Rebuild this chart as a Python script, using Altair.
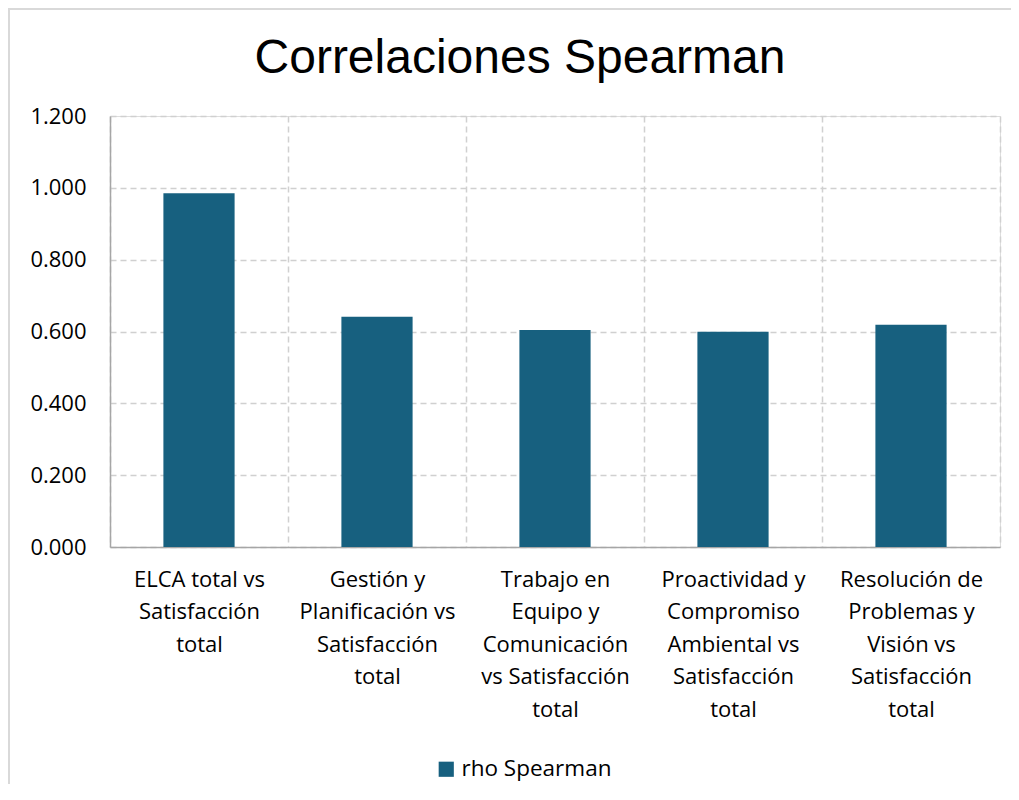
import altair as alt
import pandas as pd

categories = [
    "ELCA total vs Satisfacción total",
    "Gestión y Planificación vs Satisfacción total",
    "Trabajo en Equipo y Comunicación vs Satisfacción total",
    "Proactividad y Compromiso Ambiental vs Satisfacción total",
    "Resolución de Problemas y Visión vs Satisfacción total",
]
label_lines = [
    ["ELCA total vs", "Satisfacción", "total"],
    ["Gestión y", "Planificación vs", "Satisfacción", "total"],
    ["Trabajo en", "Equipo y", "Comunicación", "vs Satisfacción", "total"],
    ["Proactividad y", "Compromiso", "Ambiental vs", "Satisfacción", "total"],
    ["Resolución de", "Problemas y", "Visión vs", "Satisfacción", "total"],
]
rho = [0.985, 0.641, 0.604, 0.599, 0.619]
series_name = "rho Spearman"
y_ticks = [0.0, 0.2, 0.4, 0.6, 0.8, 1.0, 1.2]

df = pd.DataFrame({"categoria": categories, "valor": rho, "serie": series_name})

def js_str(s):
    return "'" + s.replace("'", "\\'") + "'"

label_expr = "{" + ", ".join(
    js_str(c) + ": [" + ", ".join(js_str(l) for l in lines) + "]"
    for c, lines in zip(categories, label_lines)
) + "}[datum.label]"

label_font = "Open Sans"
bar_color = "#17607f"
grid_color = "#d0d0d0"

bars = alt.Chart(df).mark_bar(width={"band": 0.4}, color=bar_color).encode(
    x=alt.X(
        "categoria:N",
        sort=categories,
        scale=alt.Scale(paddingInner=0, paddingOuter=0),
        axis=alt.Axis(
            title=None,
            labelAngle=0,
            labelExpr=label_expr,
            labelFont=label_font,
            labelFontSize=22,
            labelLineHeight=32.5,
            labelColor="#000000",
            labelPadding=22,
            labelBaseline="top",
            ticks=False,
            tickBand="extent",
            grid=True,
            gridColor=grid_color,
            gridDash=[6, 4],
            gridWidth=1.5,
            domainColor="#a6a6a6",
            domainWidth=1.5,
        ),
    ),
    y=alt.Y(
        "valor:Q",
        scale=alt.Scale(domain=[0, 1.2], nice=False),
        axis=alt.Axis(
            title=None,
            values=y_ticks,
            format=".3f",
            labelFont=label_font,
            labelFontSize=22,
            labelColor="#000000",
            labelPadding=24,
            ticks=False,
            grid=True,
            gridColor=grid_color,
            gridDash=[6, 4],
            gridWidth=1.5,
            domainColor="#a6a6a6",
            domainWidth=1.5,
        ),
    ),
    fill=alt.Fill(
        "serie:N",
        scale=alt.Scale(domain=[series_name], range=[bar_color]),
        legend=alt.Legend(
            title=None,
            orient="none",
            legendX=325,
            legendY=642,
            symbolType="square",
            symbolSize=230,
            symbolStrokeWidth=0,
            labelFont=label_font,
            labelFontSize=22.5,
            labelColor="#000000",
            labelOffset=4,
            padding=0,
        ),
    ),
)

frame = alt.Chart(df).mark_rect(
    fill="transparent", stroke="#d9d9d9", strokeWidth=2, clip=False
).encode(
    x=alt.value(-101), x2=alt.value(930), y=alt.value(-107), y2=alt.value(720)
)

chart = alt.layer(frame, bars).properties(
    width=890,
    height=431,
    title=alt.TitleParams(
        "Correlaciones Spearman",
        font="Liberation Sans",
        fontSize=48,
        fontWeight="normal",
        color="#000000",
        anchor="middle",
        frame="group",
        dx=-35,
        offset=-75,
    ),
    autosize=alt.AutoSizeParams(type="none"),
    padding={"left": 102, "top": 108, "right": 11, "bottom": 237},
).configure_view(stroke=None).configure(background="white")

chart.save("out.html", embed_options={"renderer": "svg", "actions": False})
